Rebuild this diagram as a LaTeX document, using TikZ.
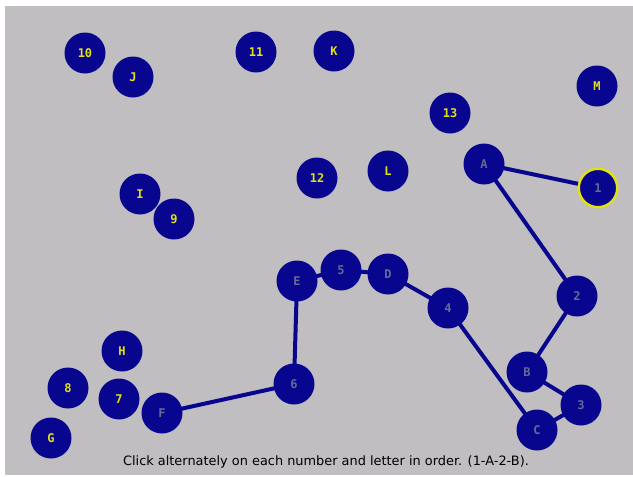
\documentclass[tikz,border=0pt]{standalone}
\usepackage{fontspec}
\setmainfont{DejaVu Sans}
\newfontfamily\labelfont{DejaVu Sans Mono}
\definecolor{bg}{RGB}{192,190,192}
\definecolor{navy}{RGB}{8,6,142}
\definecolor{ylw}{RGB}{225,225,20}
\definecolor{done}{RGB}{105,105,150}
\pgfdeclarelayer{linklayer}
\pgfdeclarelayer{paper}
\pgfsetlayers{paper,linklayer,main}
\begin{document}
\begin{tikzpicture}[x=1pt,y=-1pt,
  dot/.style={circle,fill=navy,minimum size=41pt,inner sep=0pt,
    font=\labelfont\bfseries\fontsize{12}{14}\selectfont,text=ylw},
  visited/.style={dot,text=done},
  current/.style={visited,draw=ylw,line width=2.5pt,minimum size=38.5pt},
  link/.style={draw=navy,line width=4pt}]
\useasboundingbox (0,0) rectangle (633,477);
\begin{pgfonlayer}{paper}
\fill[white] (0,0) rectangle (633,477);
\fill[bg] (5,6) rectangle (633,475);
\end{pgfonlayer}
% nodes
\node[dot] (n10) at (85,53) {10};
\node[dot] (nJ) at (133,77) {J};
\node[dot] (n11) at (256,52) {11};
\node[dot] (nK) at (334,51) {K};
\node[dot] (nM) at (597,86) {M};
\node[dot] (n13) at (450,113) {13};
\node[visited] (nA) at (484,164) {A};
\node[current] (n1) at (598,188) {1};
\node[dot] (nL) at (388,171) {L};
\node[dot] (n12) at (317,178) {12};
\node[dot] (nI) at (140,194) {I};
\node[dot] (n9) at (174,219) {9};
\node[visited] (nE) at (297,281) {E};
\node[visited] (n5) at (341,270) {5};
\node[visited] (nD) at (388,274) {D};
\node[visited] (n4) at (448,308) {4};
\node[visited] (n2) at (577,296) {2};
\node[visited] (nB) at (527,372) {B};
\node[visited] (n3) at (581,405) {3};
\node[visited] (nC) at (537,430) {C};
\node[dot] (nH) at (122,351) {H};
\node[dot] (n8) at (68,388) {8};
\node[dot] (n7) at (119,399) {7};
\node[visited] (nF) at (162,413) {F};
\node[visited] (n6) at (294,384) {6};
\node[dot] (nG) at (51,438) {G};
% connectors behind nodes
\begin{pgfonlayer}{linklayer}
\path[link] (n1.center) -- (nA.center) -- (n2.center) -- (nB.center) -- (n3.center) -- (nC.center) -- (n4.center) -- (nD.center) -- (n5.center) -- (nE.center) -- (n6.center) -- (nF.center);
\end{pgfonlayer}
\node[font=\fontsize{12.9}{15}\selectfont] (cap) at (326,462) {Click alternately on each number and letter in order. (1-A-2-B).};
\end{tikzpicture}
\end{document}
